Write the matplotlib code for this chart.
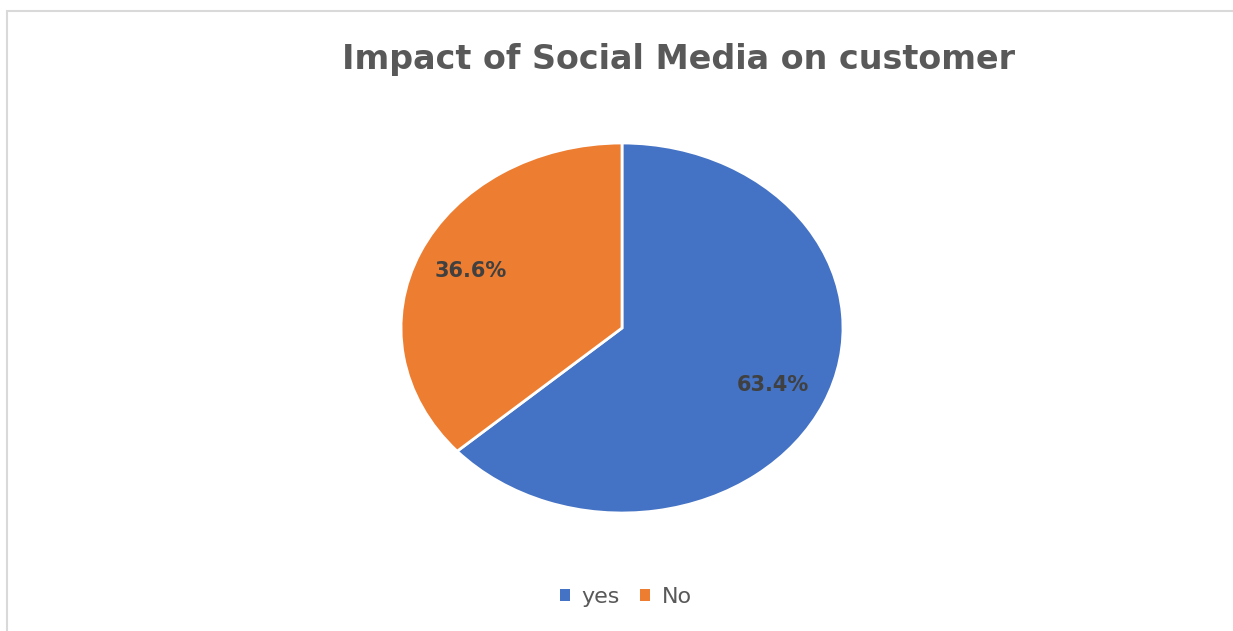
import matplotlib.pyplot as plt
from matplotlib.patches import Rectangle

labels = ['yes', 'No']
shares = [63.4, 36.6]
colors = ['#4472C4', '#ED7D31']

W, H = 1233, 631
fig = plt.figure(figsize=(W / 100, H / 100), dpi=100)
fig.patch.set_facecolor('white')

# light chart-area border
fig.patches.append(Rectangle((7 / W, -0.01), 1.0, 1 - 11 / H + 0.01,
                             transform=fig.transFigure, fill=False,
                             edgecolor='#d9d9d9', linewidth=1.5))

# the pie is stretched horizontally, so use an axes with auto aspect
ax = fig.add_axes([401 / W, 1 - 513 / H, 442 / W, 370 / H])
wedges, texts, autotexts = ax.pie(
    shares, colors=colors, startangle=90, counterclock=False,
    autopct='%1.1f%%', pctdistance=0.75,
    wedgeprops=dict(edgecolor='white', linewidth=2),
    textprops=dict(fontfamily='DejaVu Sans', fontsize=15, fontweight='bold',
                   color='#404040'))
ax.set_aspect('auto')
ax.set_xlim(-1, 1)
ax.set_ylim(-1, 1)
ax.axis('off')

fig.text(679 / W, 1 - 60 / H, 'Impact of Social Media on customer',
         ha='center', va='center', fontfamily='DejaVu Sans', fontsize=24,
         fontweight='bold', color='#595959')

leg = fig.legend(wedges, labels, loc='center', bbox_to_anchor=(626 / W, 1 - 597 / H),
                 ncol=2, frameon=False, handlelength=0.45, handleheight=0.45,
                 handletextpad=0.55, columnspacing=0.9,
                 prop=dict(family='DejaVu Sans', size=16))
for t in leg.get_texts():
    t.set_color('#595959')
for h in leg.legend_handles:
    h.set_edgecolor('none')

fig.savefig('out.png', dpi=100)
